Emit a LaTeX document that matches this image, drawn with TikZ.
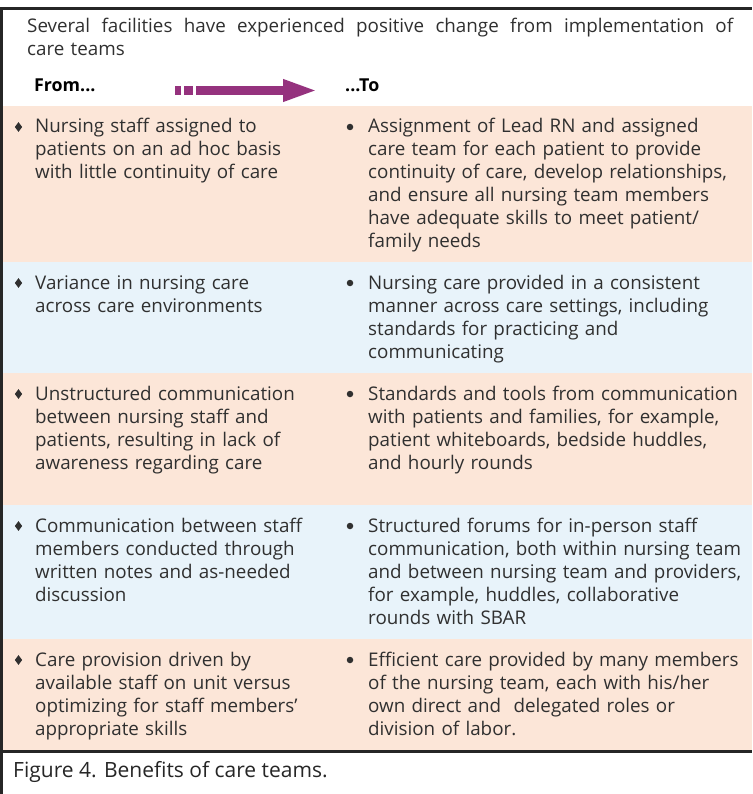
\documentclass[tikz,border=0pt]{standalone}
\usepackage{fontspec}
\setmainfont{Open Sans}
\usepackage{xcolor}
\usepackage{tikz}
\usetikzlibrary{positioning,shapes.geometric,arrows.meta}
\definecolor{rowpeach}{RGB}{252,230,216}
\definecolor{rowblue}{RGB}{232,243,250}
\definecolor{arrowpurple}{RGB}{149,50,126}
\definecolor{txtgray}{RGB}{48,48,48}
\newcommand{\rowfont}{\fontsize{18.8}{23}\selectfont}
\tikzset{
  cell/.style    = {anchor=base west, inner sep=0pt, align=left, text=txtgray,
                    font=\rowfont},
  from col/.style = {cell, text width=320pt},
  to col/.style   = {cell, text width=390pt},
  head/.style    = {cell, font=\fontsize{17.8}{20}\selectfont\bfseries, text=black},
  dia/.style     = {diamond, fill=txtgray, inner sep=0pt, minimum width=7.5pt,
                    minimum height=10pt},
  dot/.style     = {circle, fill=txtgray, inner sep=0pt, minimum size=6.5pt},
  frame/.style   = {draw=black!85, line width=2.6pt},
  bigarrow/.style = {arrowpurple, line width=9pt,
                    -{Triangle[length=35pt,width=20pt]}}
}

\begin{document}
\begin{tikzpicture}[x=1pt,y=-1pt]
  \useasboundingbox (0,0) rectangle (752,794);
  % row backgrounds
  \fill[rowpeach] (3,106) rectangle (752,262);
  \fill[rowblue]  (3,262) rectangle (752,373);
  \fill[rowpeach] (3,373) rectangle (752,505);
  \fill[rowblue]  (3,505) rectangle (752,639);
  \fill[rowpeach] (3,639) rectangle (752,751);
  % outer frame
  \draw[frame] (1.3,794) -- (1.3,8.3) -- (752,8.3);
  \draw[frame] (1.3,751.5) -- (752,751.5);

  % heading
  \node[cell, text width=720pt] (hdr) at (27,33)
    {{\spaceskip=4pt plus 1fil\relax
      \hbox to 706pt{Several facilities have experienced positive change from implementation of}}\\
     care teams};
  \node[head] (from) at (34,92) {From...};
  \node[head] (to) at (345,92) {...To};
  \fill[arrowpurple] (175,86) rectangle (181,95);
  \fill[arrowpurple] (184,86) rectangle (193,95);
  \coordinate (arrS) at (196,90.5);
  \coordinate (arrE) at (318,90.5);
  \draw[bigarrow] (arrS) -- (arrE);

  % row 1
  \node[from col] (l1) at (35,133) {Nursing staff assigned to\\
    patients on an ad hoc basis\\ with little continuity of care};
  \node[to col] (r1) at (368,133) {Assignment of Lead RN and assigned\\
    care team for each patient to provide\\
    continuity of care, develop relationships,\\
    and ensure all nursing team members\\
    have adequate skills to meet patient/\\ family needs};
  % row 2
  \node[from col] (l2) at (35,289) {Variance in nursing care\\
    across care environments};
  \node[to col] (r2) at (368,289) {Nursing care provided in a consistent\\
    manner across care settings, including\\
    standards for practicing and\\ communicating};
  % row 3
  \node[from col] (l3) at (35,400) {Unstructured communication\\
    between nursing staff and\\ patients, resulting in lack of\\
    awareness regarding care};
  \node[to col] (r3) at (368,400) {Standards and tools from communication\\
    with patients and families, for example,\\
    patient whiteboards, bedside huddles,\\ and hourly rounds};
  % row 4
  \node[from col] (l4) at (35,532) {Communication between staff\\
    members conducted through\\ written notes and as-needed\\ discussion};
  \node[to col] (r4) at (368,532) {Structured forums for in-person staff\\
    communication, both within nursing team\\
    and between nursing team and providers,\\
    for example, huddles, collaborative\\ rounds with SBAR};
  % row 5
  \node[from col] (l5) at (35,666) {Care provision driven by\\
    available staff on unit versus\\ optimizing for staff members’\\
    appropriate skills};
  \node[to col] (r5) at (368,666) {Efficient care provided by many members\\
    of the nursing team, each with his/her\\
    own direct and\ \ delegated roles or\\ division of labor.};

  % bullets
  \node[dia] (bl1) at (18.5,127) {};
  \node[dia] (bl2) at (18.5,283) {};
  \node[dia] (bl3) at (18.5,394) {};
  \node[dia] (bl4) at (18.5,526) {};
  \node[dia] (bl5) at (18.5,660) {};
  \node[dot] (br1) at (350,127) {};
  \node[dot] (br2) at (350,283) {};
  \node[dot] (br3) at (350,394) {};
  \node[dot] (br4) at (350,526) {};
  \node[dot] (br5) at (350,660) {};

  % caption
  \node[cell, font=\fontsize{21}{24}\selectfont, text=black!85] (cap) at (13,777)
    {Figure 4. Benefits of care teams.};
\end{tikzpicture}
\end{document}
